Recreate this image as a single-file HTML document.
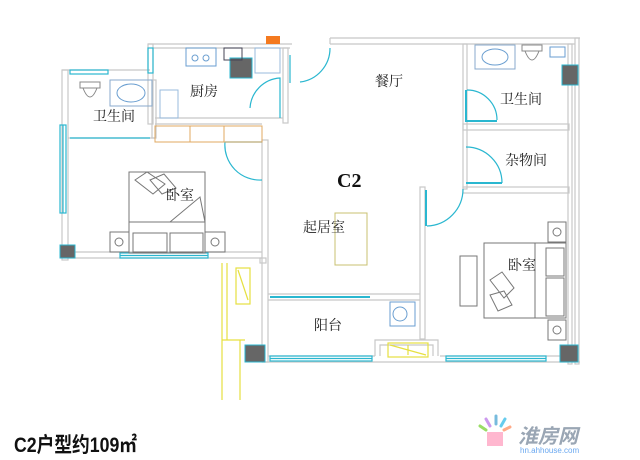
<!DOCTYPE html>
<html><head><meta charset="utf-8"><style>
html,body{margin:0;padding:0;background:#fff;width:640px;height:460px;overflow:hidden}
svg{display:block}
.w{fill:none;stroke:#c8c8c8;stroke-width:1.2}
.c{stroke:#2ab7d0;stroke-width:1.2;fill:none}
.y{stroke:#e6e040;stroke-width:1.2;fill:none}
.f{stroke:#777;stroke-width:1;fill:none}
.t{font-family:"Liberation Serif","Noto Serif CJK SC",serif;font-size:14px;fill:#222}
.d{fill:#666;stroke:#2ab7d0;stroke-width:1}
</style></head><body>
<svg width="640" height="460" viewBox="0 0 640 460" xmlns="http://www.w3.org/2000/svg">
<g class="w">
<rect x="62" y="70" width="6" height="190"/>
<line x1="62" y1="70" x2="150" y2="70"/>
<line x1="62" y1="258" x2="262" y2="258"/>
<line x1="68" y1="252" x2="262" y2="252"/>
<rect x="148" y="44" width="5" height="80"/>
<line x1="148" y1="44" x2="292" y2="44"/>
<line x1="153" y1="48" x2="290" y2="48"/>
<rect x="283" y="48" width="5" height="75"/>
<line x1="155" y1="118" x2="283" y2="118"/>
<line x1="155" y1="124" x2="262" y2="124"/>
<line x1="68" y1="138" x2="155" y2="138"/>
<rect x="152" y="80" width="4" height="58"/>
<line x1="330" y1="38" x2="580" y2="38"/>
<line x1="330" y1="44" x2="575" y2="44"/>
<line x1="330" y1="38" x2="330" y2="44"/>
<rect x="463" y="44" width="4" height="145"/>
<rect x="463" y="124" width="106" height="6"/>
<rect x="463" y="187" width="106" height="6"/>
<rect x="568" y="44" width="4" height="320"/>
<rect x="575" y="38" width="4" height="326"/>
<rect x="262" y="140" width="6" height="222"/>
<rect x="420" y="187" width="5" height="152"/>
<line x1="268" y1="294" x2="420" y2="294"/>
<line x1="268" y1="300" x2="420" y2="300"/>
<line x1="262" y1="362" x2="580" y2="362"/>
<line x1="268" y1="356" x2="375" y2="356"/>
<line x1="440" y1="356" x2="568" y2="356"/>
<polyline points="375,356 375,340 438,340 438,356"/>
<polyline points="380,356 380,345 433,345 433,356"/>
<rect x="260" y="258" width="6" height="5"/>
</g>
<g class="c">
<rect x="60" y="125" width="6" height="88"/><line x1="63" y1="125" x2="63" y2="213"/>
<rect x="120" y="253" width="88" height="5"/><line x1="120" y1="255.5" x2="208" y2="255.5"/>
<rect x="70" y="70" width="38" height="4"/>
<rect x="148" y="48" width="5" height="25"/>
<rect x="270" y="356" width="102" height="5"/><line x1="270" y1="358.5" x2="372" y2="358.5"/>
<rect x="446" y="356" width="100" height="5"/><line x1="446" y1="358.5" x2="546" y2="358.5"/>
<line x1="70" y1="138" x2="150" y2="138"/>
<line x1="270" y1="297" x2="370" y2="297" stroke-width="2"/>
<path d="M300 82 A34 34 0 0 0 330 48"/>
<line x1="290" y1="55" x2="290" y2="83"/>
<path d="M250 108 A32 32 0 0 1 280 78 L280 118"/>
<path d="M225 142 A35 35 0 0 0 262 180"/><line x1="225" y1="142" x2="262" y2="142"/>
<path d="M467 90 A30 30 0 0 1 497 120"/><line x1="466" y1="90" x2="466" y2="122" stroke-width="2"/><line x1="466" y1="121" x2="497" y2="121" stroke-width="2"/>
<path d="M466 147 A36 36 0 0 1 502 183"/><line x1="466" y1="183" x2="502" y2="183" stroke-width="2"/>
<path d="M427 226 A37 37 0 0 0 463 189"/><line x1="426" y1="190" x2="426" y2="226" stroke-width="2"/>
</g>
<rect class="d" x="60" y="245" width="15" height="13"/>
<rect class="d" x="230" y="58" width="22" height="20"/>
<rect class="d" x="562" y="65" width="16" height="20"/>
<rect class="d" x="245" y="345" width="20" height="17"/>
<rect class="d" x="560" y="345" width="18" height="17"/>
<rect x="186" y="48" width="30" height="18" fill="none" stroke="#6a9ed0"/>
<circle cx="195" cy="58" r="3" fill="none" stroke="#6a9ed0"/><circle cx="206" cy="58" r="3" fill="none" stroke="#6a9ed0"/>
<rect x="224" y="48" width="18" height="12" fill="none" stroke="#445"/>
<rect x="255" y="48" width="25" height="25" fill="none" stroke="#9bd"/>
<rect x="160" y="90" width="18" height="28" fill="none" stroke="#9bd"/>
<rect x="266" y="36" width="14" height="8" fill="#f47a20"/>
<rect x="155" y="126" width="107" height="16" fill="none" stroke="#e0a860"/>
<line x1="190" y1="126" x2="190" y2="142" stroke="#e0a860"/><line x1="224" y1="126" x2="224" y2="142" stroke="#e0a860"/>
<rect x="110" y="80" width="42" height="26" fill="none" stroke="#8ac"/>
<ellipse cx="131" cy="93" rx="14" ry="9" fill="none" stroke="#6a9ed0"/>
<path d="M80 82 h20 v6 h-20z M83 88 q7 18 14 0" fill="none" stroke="#888"/>
<rect x="475" y="45" width="40" height="24" fill="none" stroke="#8ac"/>
<ellipse cx="495" cy="57" rx="13" ry="8" fill="none" stroke="#6a9ed0"/>
<path d="M522 45 h20 v6 h-20z M525 51 q7 18 14 0" fill="none" stroke="#888"/>
<rect x="550" y="47" width="15" height="10" fill="none" stroke="#6a9ed0"/>
<g class="f">
<rect x="129" y="172" width="76" height="81"/>
<line x1="129" y1="222" x2="205" y2="222"/>
<rect x="133" y="233" width="34" height="19"/><rect x="170" y="233" width="33" height="19"/>
<path d="M135 180 l12 -8 l18 12 l-12 10z M150 180 l14 -6 l12 14 l-14 6z"/>
<path d="M170 222 l30 -25 l5 25"/>
<rect x="110" y="232" width="19" height="20"/><rect x="205" y="232" width="20" height="20"/>
<circle cx="119" cy="242" r="4"/><circle cx="215" cy="242" r="4"/>
<rect x="484" y="243" width="82" height="75"/>
<line x1="535" y1="243" x2="535" y2="318"/>
<rect x="546" y="248" width="18" height="28"/><rect x="546" y="278" width="18" height="38"/>
<path d="M490 280 l12 -8 l12 16 l-10 10z M490 295 l14 -4 l8 14 l-14 6z"/>
<rect x="460" y="256" width="17" height="50"/>
<rect x="548" y="222" width="18" height="20"/><rect x="548" y="320" width="18" height="20"/>
<circle cx="557" cy="232" r="4"/><circle cx="557" cy="330" r="4"/>
</g>
<rect x="335" y="213" width="32" height="52" fill="none" stroke="#c8c070"/>
<rect x="390" y="302" width="25" height="24" fill="none" stroke="#6a9ed0"/><circle cx="400" cy="314" r="7" fill="none" stroke="#6a9ed0"/>
<g class="y">
<rect x="388" y="343" width="40" height="14"/><path d="M390 345 l36 10 M408 345 v10"/>
<rect x="236" y="268" width="14" height="36"/><path d="M238 270 l10 30"/>
<line x1="222" y1="263" x2="222" y2="400"/><line x1="227" y1="263" x2="227" y2="340"/>
<line x1="240" y1="340" x2="240" y2="400"/><line x1="222" y1="340" x2="245" y2="340"/>
</g>
<text class="t" x="190" y="96">厨房</text>
<text class="t" x="93" y="121">卫生间</text>
<text class="t" x="166" y="200">卧室</text>
<text class="t" x="375" y="86">餐厅</text>
<text class="t" x="500" y="104">卫生间</text>
<text class="t" x="505" y="165">杂物间</text>
<text x="337" y="187" style="font-family:'Liberation Serif',serif;font-size:20px;font-weight:bold;fill:#111">C2</text>
<text class="t" x="303" y="232">起居室</text>
<text class="t" x="314" y="330">阳台</text>
<text class="t" x="508" y="270">卧室</text>
<text x="14" y="452" textLength="123" lengthAdjust="spacingAndGlyphs" style="font-family:'Liberation Sans','Noto Sans CJK SC',sans-serif;font-size:21px;font-weight:bold;fill:#111">C2户型约109㎡</text>
<g stroke-width="3" stroke-linecap="round">
<line x1="480" y1="426" x2="486" y2="430" stroke="#9d6"/>
<line x1="486" y1="419" x2="490" y2="426" stroke="#c9e"/>
<line x1="496" y1="416" x2="496" y2="424" stroke="#7bd"/>
<line x1="505" y1="419" x2="501" y2="426" stroke="#6ce"/>
<line x1="510" y1="427" x2="504" y2="430" stroke="#fa8"/>
</g>
<rect x="487" y="432" width="16" height="14" fill="#f9b" opacity="0.7"/>
<text x="518" y="443" style="font-family:'Liberation Sans','Noto Sans CJK SC',sans-serif;font-size:20px;font-weight:bold;font-style:italic;fill:#9aa6b4">淮房网</text>
<text x="520" y="453" style="font-family:'Liberation Sans',sans-serif;font-size:8px;fill:#6aa8f0">hn.ahhouse.com</text>
</svg>
</body></html>
